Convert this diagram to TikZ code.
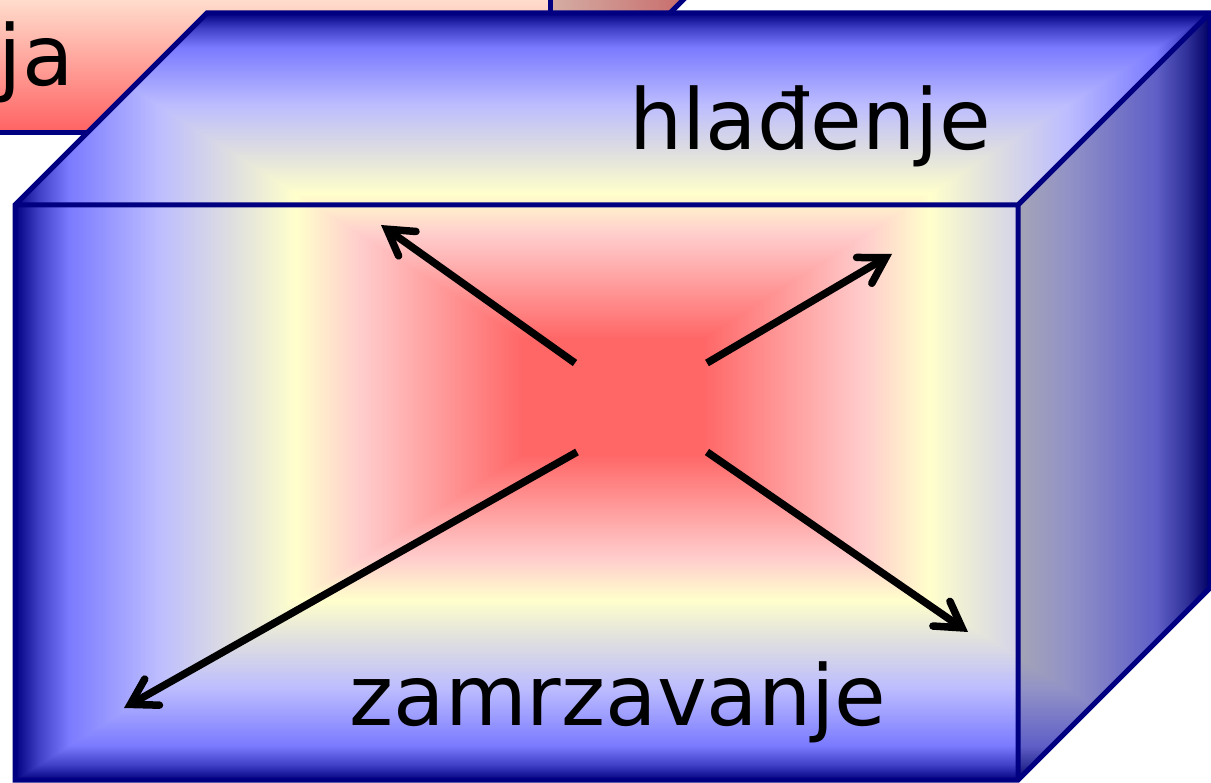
\documentclass[tikz,border=0pt]{standalone}
\usepackage{fontspec}
\setmainfont{DejaVu Sans}
\usepackage{xcolor}
\definecolor{cubeline}{RGB}{0,0,128}
\definecolor{peach}{RGB}{255,222,206}
\definecolor{warmred}{RGB}{255,98,98}
\definecolor{sidel}{RGB}{212,174,164}
\definecolor{sider}{RGB}{200,108,108}
\usetikzlibrary{arrows.meta}

% rectangle gradient: red core, yellow ring, blue rim
\pgfdeclarefunctionalshading{cubefill}{\pgfpoint{0bp}{0bp}}{\pgfpoint{100bp}{100bp}}{}{
  50 sub abs 25 div exch 50 sub abs 25 div
  2 copy lt {exch} if pop
  dup 0.15 le {pop 1 0.4 0.4}{
  dup 0.42 le {0.15 sub 0.27 div dup 0 mul 1 add exch dup 0.4 mul 0.4 add exch 0.4 mul 0.4 add}{
  dup 0.53 le {0.42 sub 0.11 div dup 0 mul 1 add exch dup 0.2 mul 0.8 add exch 0 mul 0.8 add}{
  dup 0.64 le {0.53 sub 0.11 div dup -0.13 mul 1 add exch dup -0.13 mul 1 add exch 0.08 mul 0.8 add}{
  dup 0.76 le {0.64 sub 0.12 div dup -0.13 mul 0.87 add exch dup -0.13 mul 0.87 add exch 0.12 mul 0.88 add}{
  dup 0.91 le {0.76 sub 0.15 div dup -0.26 mul 0.74 add exch dup -0.26 mul 0.74 add exch 0 mul 1 add}{
  dup 0.96 le {0.91 sub 0.05 div dup -0.23 mul 0.48 add exch dup -0.23 mul 0.48 add exch -0.22 mul 1 add}{
  0.96 sub 0.04 div dup -0.25 mul 0.25 add exch dup -0.25 mul 0.25 add exch -0.28 mul 0.78 add
  } ifelse } ifelse } ifelse } ifelse } ifelse } ifelse } ifelse
}

\tikzset{
  edge/.style={draw=cubeline, line width=5pt, line join=miter},
  heat/.style={line width=7.5pt, -{Straight Barb[length=25pt,width=30pt,line cap=round]}},
  word/.style={font=\fontsize{84}{100}\selectfont, inner sep=0pt}
}

\begin{document}
\begin{tikzpicture}[x=1pt,y=-1pt]
      \useasboundingbox (0,0) rectangle (1211,783);

      % box behind, cut by the page
      \begin{scope}
        \clip (0,0) rectangle (1211,783);
        \shade[top color=peach, bottom color=warmred] (-60,-2) rectangle (550,133);
        \shade[left color=sidel, right color=sider] (550,133) -- (686,-3) -- (550,-3) -- cycle;
        \draw[edge] (-60,133) -- (550,133) -- (550,-60);
        \draw[edge] (550,133) -- (742,-59);
        \node[word, anchor=base east] (back) at (74,86) {ja};
      \end{scope}

      % corners of the cube
      \coordinate (A) at (15,780);
      \coordinate (B) at (1018,780);
      \coordinate (C) at (1018,205);
      \coordinate (D) at (15,205);
      \coordinate (E) at (207,13);
      \coordinate (F) at (1210,13);
      \coordinate (G) at (1210,588);

      \shade[shading=cubefill] (A) -- (B) -- (G) -- (F) -- (E) -- (D) -- cycle;
      \fill[black, opacity=0.22] (B) -- (G) -- (F) -- (C) -- cycle; % side face
      \draw[edge] (A) -- (B) -- (G) -- (F) -- (E) -- (D) -- cycle;
      \draw[edge] (D) -- (C) -- (B) (C) -- (F);

      \node[word, anchor=base] (cool) at (810,150) {hlađenje};
      \node[word, anchor=base] (freeze) at (618,725) {zamrzavanje};

      % heat flowing out of the core
      \coordinate (s1) at (575,363);
      \coordinate (s2) at (707,363);
      \coordinate (s3) at (577,452);
      \coordinate (s4) at (707,452);
      \coordinate (t1) at (381,225);
      \coordinate (t2) at (892,254);
      \coordinate (t3) at (124,708);
      \coordinate (t4) at (968,632);
      \draw[heat] (s1) -- (t1);
      \draw[heat] (s2) -- (t2);
      \draw[heat] (s3) -- (t3);
      \draw[heat] (s4) -- (t4);
\end{tikzpicture}
\end{document}
